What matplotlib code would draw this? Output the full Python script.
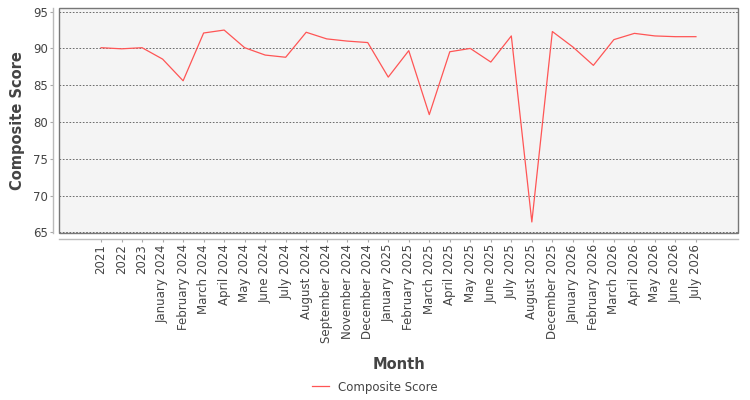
import matplotlib
matplotlib.use("Agg")
import matplotlib.pyplot as plt
from matplotlib.patches import Rectangle

months = ["2021", "2022", "2023", "January 2024", "February 2024", "March 2024",
          "April 2024", "May 2024", "June 2024", "July 2024", "August 2024",
          "September 2024", "November 2024", "December 2024", "January 2025",
          "February 2025", "March 2025", "April 2025", "May 2025", "June 2025",
          "July 2025", "August 2025", "December 2025", "January 2026",
          "February 2026", "March 2026", "April 2026", "May 2026", "June 2026",
          "July 2026"]
scores = [90.1, 89.95, 90.1, 88.55, 85.6, 92.1, 92.5, 90.1, 89.1, 88.8,
          92.2, 91.3, 91.0, 90.8, 86.1, 89.7, 81.0, 89.55, 90.0, 88.15,
          91.7, 66.4, 92.3, 90.2, 87.7, 91.2, 92.05, 91.7, 91.6, 91.6]
yticks = [65, 70, 75, 80, 85, 90, 95]

plt.rcParams['font.family'] = ['DejaVu Sans']
fig = plt.figure(figsize=(7.5, 4.0), dpi=100)
ax = fig.add_axes([59/750, 1-233/400, (738-59)/750, (233-8)/400])
ax.set_facecolor('#f4f4f4')
ax.spines['top'].set_visible(False)
ax.spines['right'].set_visible(False)
for side in ('left', 'bottom'):
    ax.spines[side].set_position(('outward', 4))
    ax.spines[side].set_color('#bbbbbb')
    ax.spines[side].set_linewidth(1.0)

x = list(range(len(months)))
line, = ax.plot(x, scores, color='#ff5555', linewidth=0.9, label='Composite Score', zorder=3)
ax.set_xlim(-2.05, len(months) - 1 + 2.05)
ax.set_ylim(64.9, 95.5)
ax.set_yticks(yticks)
ax.set_xticks(x)
ax.set_xticklabels(months, rotation=90, fontsize=8.5, color='#444444')
ax.tick_params(axis='y', labelsize=8.5, labelcolor='#444444', color='#aaaaaa', length=2, pad=2)
ax.tick_params(axis='x', color='#aaaaaa', length=2, pad=2)
ax.grid(axis='y', color='#555555', linestyle=(0, (2, 2)), linewidth=0.6)
ax.add_patch(Rectangle((0, 0), 1, 1, transform=ax.transAxes, fill=False,
                       edgecolor='#777777', linewidth=1.0, zorder=4, clip_on=False))
ax.set_ylabel('Composite Score', fontsize=10.5, fontweight='bold', color='#444444', labelpad=6)
ax.set_xlabel('Month', fontsize=10.5, fontweight='bold', color='#444444', labelpad=10)
fig.legend(handles=[line], loc='center', bbox_to_anchor=(0.5, 1-387/400), frameon=False,
           fontsize=8.5, handlelength=1.4, labelcolor='#444444')
fig.savefig('out.png', dpi=100)
